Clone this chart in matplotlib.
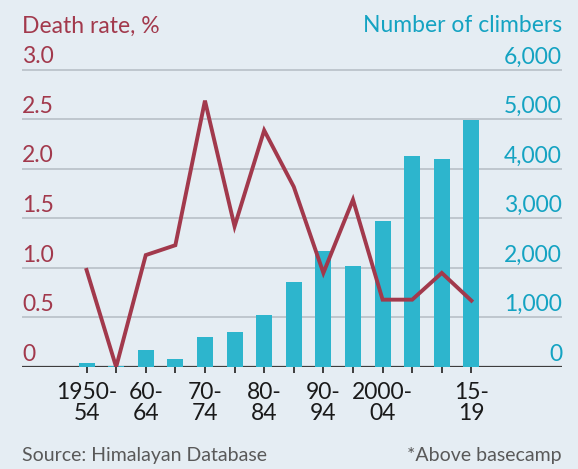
import matplotlib
matplotlib.use("Agg")
from matplotlib import pyplot as plt
import matplotlib.transforms as mtransforms

# data
periods = ["1950-54", "55-59", "60-64", "65-69", "70-74", "75-79", "80-84",
           "85-89", "90-94", "95-99", "2000-04", "05-09", "10-14", "15-19"]
climbers = [90, 15, 340, 155, 610, 710, 1060, 1710, 2350, 2040, 2940, 4260, 4210, 4990]
death_rate = [0.98, 0.0, 1.13, 1.23, 2.69, 1.42, 2.39, 1.82, 0.95, 1.69, 0.68, 0.68, 0.95, 0.67]
tick_labels = ["1950-\n54", "", "60-\n64", "", "70-\n74", "", "80-\n84", "",
               "90-\n94", "", "2000-\n04", "", "", "15-\n19"]
left_ticks = [0, 0.5, 1.0, 1.5, 2.0, 2.5, 3.0]
left_tick_text = ["0", "0.5", "1.0", "1.5", "2.0", "2.5", "3.0"]
right_tick_text = ["0", "1,000", "2,000", "3,000", "4,000", "5,000", "6,000"]

BG = "#e5edf3"
RED = "#a2394c"
CYAN = "#2db5cd"
CYAN_TXT = "#14a3c2"
plt.rcParams["font.family"] = ["Lato", "DejaVu Sans"]

fig = plt.figure(figsize=(5.78, 4.69), dpi=100, facecolor=BG)
ax = fig.add_axes([22 / 578, 1 - 367 / 469, 540 / 578, 302 / 469])
ax.set_facecolor(BG)
for s in ax.spines.values():
    s.set_visible(False)

x = list(range(len(periods)))
ax.set_xlim(-2.18, 16.06)
ax.set_ylim(0, 3.05)

# gridlines
for v in left_ticks[1:]:
    ax.axhline(v, color="#bcc4cb", lw=1.3, zorder=1)
ax.axhline(0, color="#3d3d3d", lw=1.6, zorder=4)

# bars on their own scale
ax2 = ax.twinx()
ax2.set_ylim(0, 6100)
for s in ax2.spines.values():
    s.set_visible(False)
ax2.bar(x, climbers, width=0.54, color=CYAN, zorder=2)
ax2.set_yticks([])
ax.set_yticks([])

# line on top
ax3 = ax.twinx()
ax3.set_ylim(0, 3.05)
for s in ax3.spines.values():
    s.set_visible(False)
ax3.set_yticks([])
ax3.plot(x, death_rate, color=RED, lw=2.8, solid_joinstyle="miter", zorder=5)

ax.set_xticks(x)
ax.set_xticklabels(tick_labels, fontsize=16.5, color="#1a1a1a", linespacing=1.0)
ax.tick_params(axis="x", length=4, width=1.4, color="#3d3d3d", pad=7)

# axis labels sitting above gridlines
trans = mtransforms.blended_transform_factory(fig.transFigure, ax.transData)
for v, lt, rt in zip(left_ticks, left_tick_text, right_tick_text):
    ax.text(22 / 578, v + 0.025, lt, transform=trans, ha="left", va="bottom",
            fontsize=16.5, color=RED)
    ax.text(562 / 578, v + 0.025, rt, transform=trans, ha="right", va="bottom",
            fontsize=16.5, color=CYAN_TXT)

fig.text(22 / 578, 1 - 26 / 469, "Death rate, %", ha="left", va="center",
         fontsize=16.5, color=RED)
fig.text(562 / 578, 1 - 26 / 469, "Number of climbers", ha="right", va="center",
         fontsize=16.5, color=CYAN_TXT)
fig.text(22 / 578, 1 - 455 / 469, "Source: Himalayan Database", ha="left",
         va="center", fontsize=14, color="#595959")
fig.text(562 / 578, 1 - 455 / 469, "*Above basecamp", ha="right",
         va="center", fontsize=14, color="#595959")

fig.savefig("out.png", dpi=100, facecolor=BG)
